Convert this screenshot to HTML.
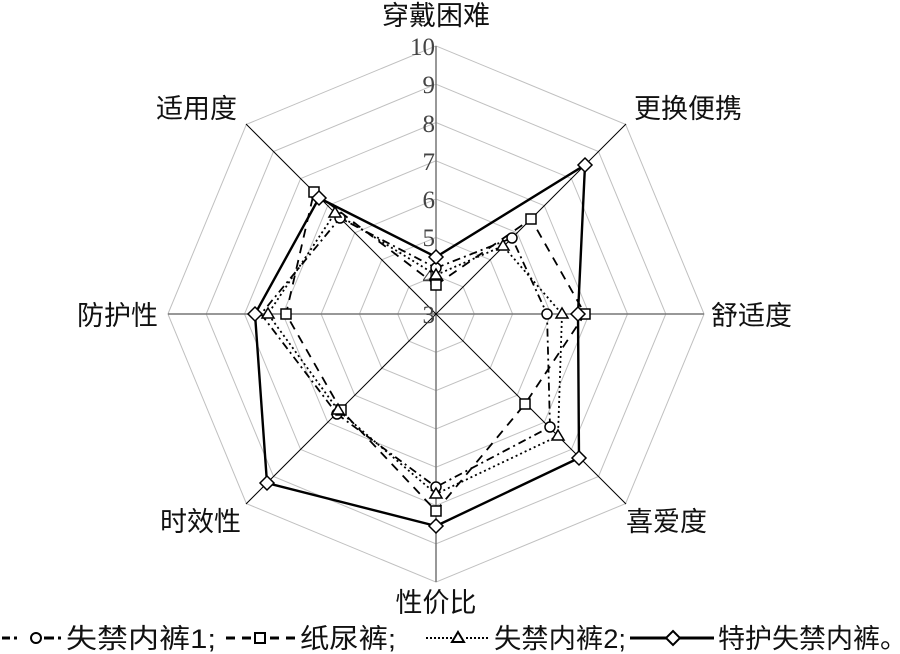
<!DOCTYPE html>
<html><head><meta charset="utf-8"><style>
html,body{margin:0;padding:0;background:#fff;}
svg{display:block;}
.lbl{font-family:"Liberation Sans","Noto Sans CJK SC",sans-serif;font-size:27px;fill:#111;}
.tk{font-family:"Liberation Serif",serif;font-size:25px;fill:#444;}
</style></head><body>
<svg width="900" height="654" viewBox="0 0 900 654" xmlns="http://www.w3.org/2000/svg">
<g fill="none" stroke="#c0c0c0" stroke-width="1">
<polygon points="436,275.7 463.1,286.9 474.3,314 463.1,341.1 436,352.3 408.9,341.1 397.7,314 408.9,286.9"/>
<polygon points="436,237.4 490.2,259.8 512.6,314 490.2,368.2 436,390.6 381.8,368.2 359.4,314 381.8,259.8"/>
<polygon points="436,199.1 517.2,232.8 550.9,314 517.2,395.2 436,428.9 354.8,395.2 321.1,314 354.8,232.8"/>
<polygon points="436,160.8 544.3,205.7 589.2,314 544.3,422.3 436,467.2 327.7,422.3 282.8,314 327.7,205.7"/>
<polygon points="436,122.5 571.4,178.6 627.5,314 571.4,449.4 436,505.5 300.6,449.4 244.5,314 300.6,178.6"/>
<polygon points="436,84.2 598.5,151.5 665.8,314 598.5,476.5 436,543.8 273.5,476.5 206.2,314 273.5,151.5"/>
<polygon points="436,45.9 625.6,124.4 704.1,314 625.6,503.6 436,582.1 246.4,503.6 167.9,314 246.4,124.4"/>
</g>
<line x1="436" y1="46" x2="436" y2="582" stroke="#777" stroke-width="1.5"/>
<line x1="168" y1="314" x2="704" y2="314" stroke="#777" stroke-width="1.5"/>
<line x1="626" y1="124" x2="246" y2="504" stroke="#000" stroke-width="1"/>
<line x1="246" y1="124" x2="626" y2="504" stroke="#000" stroke-width="1"/>
<g class="tk" text-anchor="end">
<text x="435" y="55">10</text><text x="435" y="93">9</text><text x="435" y="132">8</text>
<text x="435" y="170">7</text><text x="435" y="208">6</text><text x="435" y="246">5</text>
<text x="435" y="285">4</text><text x="435" y="323">3</text>
</g>
<g fill="none" stroke="#000">
<polyline stroke-width="1.8" stroke-dasharray="8,4,2,4" points="436,268 512,238 547,314 550,427 436,487 337,414 261,314 340,218 436,268"/>
<polyline stroke-width="1.8" stroke-dasharray="9,7" points="436,285 531,219 585,314 525,404 436,511 341,410 286,314 314,192 436,285"/>
<polyline stroke-width="1.8" stroke-dasharray="2,3" points="436,275 503,246 562,314 558,436 436,494 338,410 268,314 335,213 436,275"/>
<polyline stroke-width="2.4" points="436,257 585,165 578,314 579,458 436,526 267,483 255,314 319,198 436,257"/>
</g>
<g fill="#fff" stroke="#000" stroke-width="1.5">
<circle cx="436" cy="268" r="5"/><circle cx="512" cy="238" r="5"/><circle cx="547" cy="314" r="5"/><circle cx="550" cy="427" r="5"/><circle cx="436" cy="487" r="5"/><circle cx="337" cy="414" r="5"/><circle cx="340" cy="218" r="5"/>
<rect x="431" y="280" width="10" height="10"/><rect x="526" y="214" width="10" height="10"/><rect x="580" y="309" width="10" height="10"/><rect x="520" y="399" width="10" height="10"/><rect x="431" y="506" width="10" height="10"/><rect x="336" y="405" width="10" height="10"/><rect x="281" y="309" width="10" height="10"/><rect x="309" y="187" width="10" height="10"/>
<path d="M436,269 l6,10 h-12 z M503,240 l6,10 h-12 z M562,308 l6,10 h-12 z M558,430 l6,10 h-12 z M436,488 l6,10 h-12 z M338,404 l6,10 h-12 z M268,308 l6,10 h-12 z M335,207 l6,10 h-12 z"/>
<path d="M436,250 l7,7 l-7,7 l-7,-7 z M585,158 l7,7 l-7,7 l-7,-7 z M578,307 l7,7 l-7,7 l-7,-7 z M579,451 l7,7 l-7,7 l-7,-7 z M436,519 l7,7 l-7,7 l-7,-7 z M267,476 l7,7 l-7,7 l-7,-7 z M255,307 l7,7 l-7,7 l-7,-7 z M319,191 l7,7 l-7,7 l-7,-7 z"/>
</g>
<g class="lbl">
<text x="436" y="25" text-anchor="middle">穿戴困难</text>
<text x="634" y="118">更换便携</text>
<text x="711" y="325">舒适度</text>
<text x="626" y="531">喜爱度</text>
<text x="436" y="612" text-anchor="middle">性价比</text>
<text x="160" y="531">时效性</text>
<text x="77" y="325">防护性</text>
<text x="156" y="118">适用度</text>
</g>
<g fill="none" stroke="#000" stroke-width="3">
<path d="M2,638 h8 M14,638 h3 M44,638 h10 M58,638 h3"/><circle cx="36" cy="638" r="5" stroke-width="2"/>
<path d="M226,638 h9 M242,638 h9 M270,638 h9 M286,638 h9"/><rect x="255" y="633" width="10" height="10" stroke-width="2"/>
<path d="M426,638 h26 M466,638 h24" stroke-width="2" stroke-dasharray="2,2"/><path d="M458,632 l6,10 h-12 z" stroke-width="2"/>
<path d="M630,638 h36 M680,638 h34"/><path d="M673,631 l7,7 l-7,7 l-7,-7 z" stroke-width="2"/>
</g>
<g class="lbl" style="font-size:27px">
<text x="66" y="648" textLength="150" lengthAdjust="spacingAndGlyphs">失禁内裤1;</text>
<text x="300" y="648" textLength="96" lengthAdjust="spacingAndGlyphs">纸尿裤;</text>
<text x="494" y="648" textLength="132" lengthAdjust="spacingAndGlyphs">失禁内裤2;</text>
<text x="718" y="648">特护失禁内裤。</text>
</g>
</svg>
</body></html>
